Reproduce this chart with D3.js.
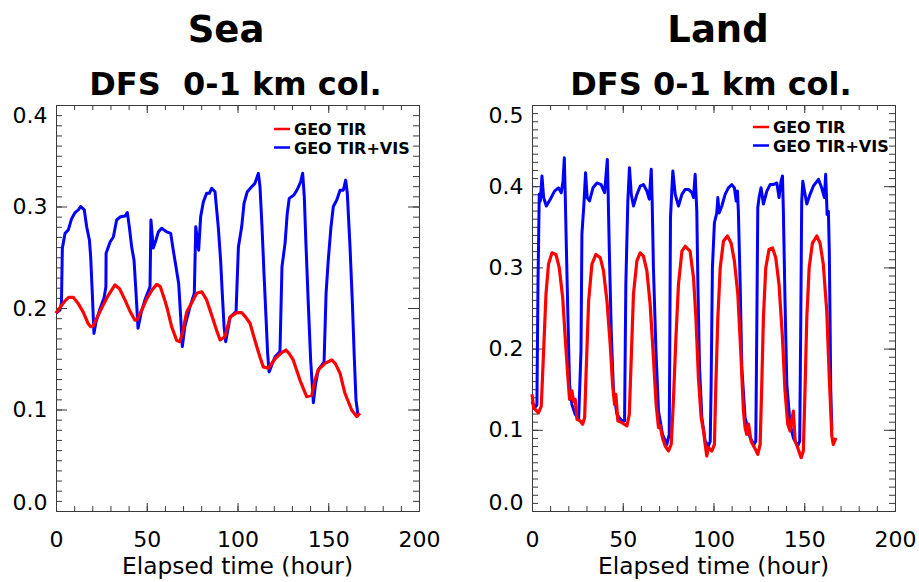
<!DOCTYPE html>
<html>
<head>
<meta charset="utf-8">
<script src="https://cdn.jsdelivr.net/npm/d3@7"></script>
<style>
  html, body { margin: 0; padding: 0; background: #fff; }
  svg { display: block; }
  text { font-family: "DejaVu Sans", sans-serif; fill: #000; }
</style>
</head>
<body>
<svg id="chart" width="919" height="582"></svg>
<script>
// ---- Data: degrees of freedom for signal, 0-1 km column, over one week ----
const hourTicks = [0, 50, 100, 150, 200];
const seaTicks = [0.0, 0.1, 0.2, 0.3, 0.4];
const landTicks = [0.0, 0.1, 0.2, 0.3, 0.4, 0.5];
const seriesNames = ["GEO TIR", "GEO TIR+VIS"];
const seriesColors = ["#ff0000", "#0000ff"];

// Sea, GEO TIR
const seaTirHours = [0, 2, 5, 7, 9.5, 12, 15, 17.6, 19, 20.4, 23, 26, 29, 32.5, 35, 38, 41, 43.5, 44.6, 47, 50, 53, 55.5, 57.5, 59.9, 61.5, 63.7, 66.5, 68.3, 70, 72, 75, 77.5, 80.3, 83, 86.7, 88.5, 90.4, 93.1, 95.9, 99.5, 102.3, 104.5, 106.9, 108.8, 110.6, 112.5, 114.2, 117, 120.7, 124.3, 126.7, 128.5, 130.7, 134.4, 138.1, 140.9, 142.5, 144.5, 148.2, 151.9, 154, 156.5, 159.2, 162.9, 165.7, 167.5];
const seaTirValues = [0.195, 0.200, 0.207, 0.2105, 0.2105, 0.205, 0.196, 0.185, 0.1816, 0.182, 0.192, 0.203, 0.213, 0.2227, 0.219, 0.208, 0.196, 0.188, 0.188, 0.197, 0.209, 0.218, 0.2233, 0.221, 0.208, 0.198, 0.1816, 0.168, 0.1668, 0.178, 0.196, 0.206, 0.2145, 0.216, 0.208, 0.188, 0.178, 0.1685, 0.1717, 0.191, 0.1955, 0.1955, 0.191, 0.185, 0.173, 0.162, 0.151, 0.142, 0.1406, 0.150, 0.156, 0.1586, 0.155, 0.1488, 0.129, 0.1126, 0.114, 0.128, 0.139, 0.1455, 0.1488, 0.145, 0.1357, 0.116, 0.0995, 0.093, 0.0963];

// Sea, GEO TIR+VIS
const seaVisHours = [0, 2.2, 3, 3.5, 5, 6.8, 8.6, 10.5, 12.3, 13.6, 15.6, 16.9, 18.4, 19.1, 20, 20.9, 22, 24.2, 26.5, 27.5, 27.6, 29.8, 31.6, 33.4, 35.6, 38, 39.3, 40.4, 41.7, 43, 44.1, 45.2, 47, 49, 51.8, 52.3, 53.6, 55.1, 56.4, 58.2, 61, 63.2, 64.6, 66.1, 67.6, 68.7, 69.6, 71, 73.8, 76.2, 77, 77.9, 78.6, 79.7, 81.2, 83, 84.5, 85.8, 87.6, 89.4, 90.7, 91.8, 92.6, 93.5, 95.9, 99.2, 100.5, 102.3, 103.6, 105.4, 107.8, 109.6, 111.5, 112.4, 113.5, 114.6, 115.7, 116.6, 117.4, 118.5, 120.7, 123.4, 124.5, 126.2, 127.4, 128.5, 131.1, 133, 134.8, 135.9, 136.8, 137.7, 139, 140.3, 141.8, 143, 144.5, 147.7, 148.8, 150, 151.5, 152.8, 154.7, 156.5, 158.3, 159.6, 160.5, 162, 163.3, 164.4, 165.3, 166.4];
const seaVisValues = [0.195, 0.198, 0.205, 0.259, 0.2736, 0.277, 0.288, 0.294, 0.2966, 0.300, 0.2966, 0.280, 0.267, 0.2505, 0.2145, 0.175, 0.186, 0.199, 0.210, 0.221, 0.254, 0.265, 0.270, 0.2867, 0.290, 0.2906, 0.294, 0.280, 0.260, 0.247, 0.2145, 0.180, 0.196, 0.208, 0.221, 0.2867, 0.259, 0.267, 0.275, 0.2785, 0.275, 0.2736, 0.257, 0.2407, 0.224, 0.191, 0.162, 0.182, 0.201, 0.2145, 0.280, 0.267, 0.257, 0.290, 0.3047, 0.313, 0.313, 0.318, 0.3146, 0.280, 0.247, 0.208, 0.1816, 0.1668, 0.191, 0.1964, 0.260, 0.280, 0.303, 0.3146, 0.3195, 0.3228, 0.3327, 0.3195, 0.280, 0.234, 0.191, 0.1554, 0.137, 0.142, 0.152, 0.157, 0.2407, 0.2637, 0.293, 0.308, 0.3113, 0.317, 0.3244, 0.3327, 0.3097, 0.2637, 0.2046, 0.1488, 0.1067, 0.125, 0.139, 0.147, 0.2145, 0.247, 0.280, 0.300, 0.3064, 0.316, 0.316, 0.326, 0.313, 0.260, 0.2046, 0.1488, 0.109, 0.0946];

// Land, GEO TIR
const landTirHours = [0, 0.9, 3.6, 5.1, 6.4, 7.7, 9.1, 11, 13.2, 15, 16.9, 18.3, 19.8, 20.7, 22, 22.9, 23.8, 24.8, 26.6, 27.9, 29, 29.9, 31.2, 33, 35.2, 37.6, 39.4, 41.3, 43.1, 44.4, 45.5, 46.2, 47.3, 49.5, 52.3, 53.6, 54.7, 55.9, 57.8, 59.6, 61.4, 63.3, 65.1, 66.9, 68.4, 69.7, 70.6, 71.9, 73.4, 75.2, 76.7, 77.9, 79.3, 80.7, 82.6, 84.4, 87.1, 89, 90.3, 91.7, 93.2, 94.5, 95.4, 96.3, 97.2, 99.1, 100.5, 101.3, 102.4, 103.7, 105.5, 107.7, 109.7, 111.5, 113.4, 115, 116.5, 117.4, 118.3, 119.3, 120.7, 122.6, 124.4, 125.7, 126.6, 127.5, 128.8, 130.6, 132.5, 134.3, 136.1, 138, 139.4, 140.9, 142.2, 143.1, 144, 145, 146.4, 148.3, 149.5, 150.5, 151.4, 152.7, 154.5, 156.9, 158.7, 160.5, 162.4, 163.8, 165.2, 166, 167.4];
const landTirValues = [0.1437, 0.127, 0.121, 0.129, 0.197, 0.267, 0.304, 0.318, 0.316, 0.2997, 0.263, 0.2135, 0.164, 0.1375, 0.148, 0.135, 0.1375, 0.113, 0.111, 0.1068, 0.115, 0.1765, 0.2586, 0.3038, 0.316, 0.312, 0.2956, 0.2586, 0.205, 0.156, 0.131, 0.1437, 0.111, 0.1088, 0.1047, 0.119, 0.189, 0.267, 0.308, 0.318, 0.314, 0.2956, 0.2545, 0.189, 0.131, 0.1026, 0.105, 0.090, 0.080, 0.0739, 0.082, 0.1355, 0.2135, 0.279, 0.320, 0.326, 0.320, 0.287, 0.238, 0.164, 0.115, 0.0985, 0.082, 0.0677, 0.078, 0.0739, 0.082, 0.156, 0.238, 0.2996, 0.3325, 0.3387, 0.330, 0.308, 0.267, 0.197, 0.123, 0.1026, 0.0944, 0.107, 0.086, 0.078, 0.0698, 0.082, 0.156, 0.238, 0.2996, 0.322, 0.324, 0.312, 0.279, 0.2135, 0.148, 0.107, 0.0985, 0.111, 0.123, 0.086, 0.078, 0.0657, 0.0739, 0.156, 0.238, 0.2996, 0.330, 0.3387, 0.330, 0.3038, 0.246, 0.164, 0.0924, 0.082, 0.090];

// Land, GEO TIR+VIS
const landVisHours = [0, 1.5, 2.7, 3.3, 4, 4.6, 5.5, 6.4, 7.9, 10.1, 12.4, 14.6, 16.1, 17.1, 17.8, 18.3, 18.9, 19.8, 20.7, 22, 23.8, 25.7, 27, 27.5, 28.6, 29.5, 30.4, 31.7, 33.6, 35.8, 38.1, 40, 41.5, 42, 42.6, 43.7, 44.9, 46.8, 49.5, 51, 51.7, 52.8, 53.7, 54.7, 55.9, 57.8, 59.6, 61.4, 63.3, 64.6, 65.7, 66.2, 66.9, 68.3, 69.7, 71.9, 74.3, 75.6, 75.9, 76.3, 77.1, 77.6, 78.9, 80.7, 82.6, 84.4, 86.2, 88.1, 89, 89.9, 90.8, 91.4, 92.3, 93.6, 95.4, 97.2, 98.2, 98.7, 99.4, 100.5, 101.8, 102.4, 103.1, 104.6, 106.4, 108.2, 110.1, 111.5, 112.5, 113.2, 113.7, 114.7, 115.6, 117.4, 120.2, 122.4, 123.3, 123.9, 124.4, 125.1, 126.2, 127.5, 129.4, 131.2, 133, 134.9, 136.1, 137.2, 138, 138.5, 139.4, 140.4, 142.2, 144, 146.4, 147.5, 148.1, 148.6, 149.2, 150.1, 151.4, 153.2, 155, 157.8, 159.6, 161.1, 161.8, 162.6, 163.3, 163.8, 164.2, 164.6, 165.2];
const landVisValues = [0.135, 0.127, 0.131, 0.279, 0.39, 0.3818, 0.4126, 0.386, 0.3756, 0.384, 0.394, 0.398, 0.392, 0.406, 0.435, 0.39, 0.328, 0.238, 0.156, 0.131, 0.119, 0.113, 0.197, 0.341, 0.378, 0.4166, 0.386, 0.3818, 0.398, 0.404, 0.402, 0.392, 0.433, 0.386, 0.32, 0.2176, 0.148, 0.119, 0.111, 0.111, 0.279, 0.3818, 0.4228, 0.39, 0.3756, 0.39, 0.400, 0.402, 0.394, 0.384, 0.4208, 0.3818, 0.2996, 0.197, 0.123, 0.0944, 0.082, 0.0944, 0.197, 0.361, 0.398, 0.4187, 0.39, 0.3756, 0.39, 0.396, 0.396, 0.392, 0.386, 0.4146, 0.369, 0.279, 0.1765, 0.115, 0.086, 0.080, 0.086, 0.156, 0.2996, 0.355, 0.367, 0.386, 0.367, 0.3756, 0.39, 0.398, 0.402, 0.398, 0.3818, 0.394, 0.369, 0.279, 0.1765, 0.115, 0.090, 0.082, 0.086, 0.238, 0.3735, 0.386, 0.398, 0.378, 0.394, 0.402, 0.402, 0.404, 0.386, 0.406, 0.4126, 0.369, 0.2586, 0.156, 0.107, 0.090, 0.080, 0.086, 0.238, 0.3818, 0.406, 0.394, 0.378, 0.39, 0.400, 0.4085, 0.398, 0.386, 0.4146, 0.365, 0.369, 0.320, 0.238, 0.15, 0.10];

const zip = (hs, vs) => hs.map((h, i) => ({ h: h, v: vs[i] }));

const panels = [
  {
    title: "Sea", titleX: 226, subtitle: "DFS  0-1 km col.", subX: 235.5,
    left: 56, right: 419, top: 105, bottom: 511,
    yMax: 0.4, yTicks: seaTicks, legendX: 274, legendY: 129,
    series: [zip(seaTirHours, seaTirValues), zip(seaVisHours, seaVisValues)]
  },
  {
    title: "Land", titleX: 718, subtitle: "DFS 0-1 km col.", subX: 711,
    left: 532, right: 895, top: 105, bottom: 511,
    yMax: 0.5, yTicks: landTicks, legendX: 753, legendY: 127,
    series: [zip(landTirHours, landTirValues), zip(landVisHours, landVisValues)]
  }
];

const svg = d3.select("#chart");
const frameColor = "#3a3a3a";

panels.forEach(p => {
  const x = d3.scaleLinear().domain([0, 200]).range([p.left, p.right]);
  const y = d3.scaleLinear().domain([0, p.yMax]).range([p.bottom, p.top]);
  const g = svg.append("g");

  // titles
  g.append("text").attr("x", p.titleX).attr("y", 41.5)
    .attr("text-anchor", "middle").style("font-size", "37px").style("font-weight", "bold")
    .text(p.title);
  g.append("text").attr("x", p.subX).attr("y", 95)
    .attr("text-anchor", "middle").style("font-size", "32px").style("font-weight", "bold")
    .style("white-space", "pre")
    .text(p.subtitle);

  const minorX = d3.range(0, 201, 10);
  const minorY = d3.range(0, Math.round(p.yMax * 100) + 1).map(d => d / 100);

  const styleAxis = sel => {
    sel.select(".domain").attr("stroke", frameColor).attr("stroke-width", 1);
    sel.selectAll(".tick line").attr("stroke", frameColor).attr("stroke-width", 1);
  };

  // minor ticks on all four sides (inward)
  g.append("g").attr("transform", `translate(0,${p.bottom})`)
    .call(d3.axisBottom(x).tickValues(minorX).tickSize(-5).tickFormat(""))
    .call(styleAxis);
  g.append("g").attr("transform", `translate(0,${p.top})`)
    .call(d3.axisTop(x).tickValues(minorX).tickSize(-5).tickFormat(""))
    .call(styleAxis);
  g.append("g").attr("transform", `translate(${p.left},0)`)
    .call(d3.axisLeft(y).tickValues(minorY).tickSize(-6).tickFormat(""))
    .call(styleAxis);
  g.append("g").attr("transform", `translate(${p.right},0)`)
    .call(d3.axisRight(y).tickValues(minorY).tickSize(-6).tickFormat(""))
    .call(styleAxis);

  // major ticks and labels
  const xb = g.append("g").attr("transform", `translate(0,${p.bottom})`)
    .call(d3.axisBottom(x).tickValues(hourTicks).tickSize(-8).tickPadding(20).tickFormat(d3.format("d")))
    .call(styleAxis);
  xb.selectAll("text").style("font-size", "22px").style("font-family", "DejaVu Sans, sans-serif").attr("fill", "#000");
  g.append("g").attr("transform", `translate(0,${p.top})`)
    .call(d3.axisTop(x).tickValues(hourTicks).tickSize(-8).tickFormat(""))
    .call(styleAxis);
  const yl = g.append("g").attr("transform", `translate(${p.left},0)`)
    .call(d3.axisLeft(y).tickValues(p.yTicks).tickSize(-11).tickPadding(8.5).tickFormat(d3.format(".1f")))
    .call(styleAxis);
  yl.selectAll("text").style("font-size", "22px").style("font-family", "DejaVu Sans, sans-serif").attr("fill", "#000")
    .attr("y", d => d === 0 ? -9 : (d === p.yMax ? 10.5 : 0));
  g.append("g").attr("transform", `translate(${p.right},0)`)
    .call(d3.axisRight(y).tickValues(p.yTicks).tickSize(-11).tickFormat(""))
    .call(styleAxis);

  // x-axis title
  g.append("text").attr("x", (p.left + p.right) / 2).attr("y", 574)
    .attr("text-anchor", "middle").style("font-size", "23px")
    .attr("textLength", 231).attr("lengthAdjust", "spacingAndGlyphs")
    .text("Elapsed time (hour)");

  // series: TIR+VIS drawn first, TIR on top
  const line = d3.line().x(d => x(d.h)).y(d => y(d.v));
  [1, 0].forEach(k => {
    g.append("path").datum(p.series[k])
      .attr("fill", "none")
      .attr("stroke", seriesColors[k])
      .attr("stroke-width", k === 0 ? 3.2 : 3)
      .attr("stroke-linejoin", "round")
      .attr("d", line);
  });

  // legend
  seriesNames.forEach((name, k) => {
    const ly = p.legendY + k * 18.5;
    g.append("line").attr("x1", p.legendX).attr("x2", p.legendX + 16)
      .attr("y1", ly).attr("y2", ly)
      .attr("stroke", seriesColors[k]).attr("stroke-width", 2.5);
    g.append("text").attr("x", p.legendX + 20).attr("y", ly + 6)
      .style("font-size", "16px").style("font-weight", "bold")
      .text(name);
  });
});
</script>
</body>
</html>
